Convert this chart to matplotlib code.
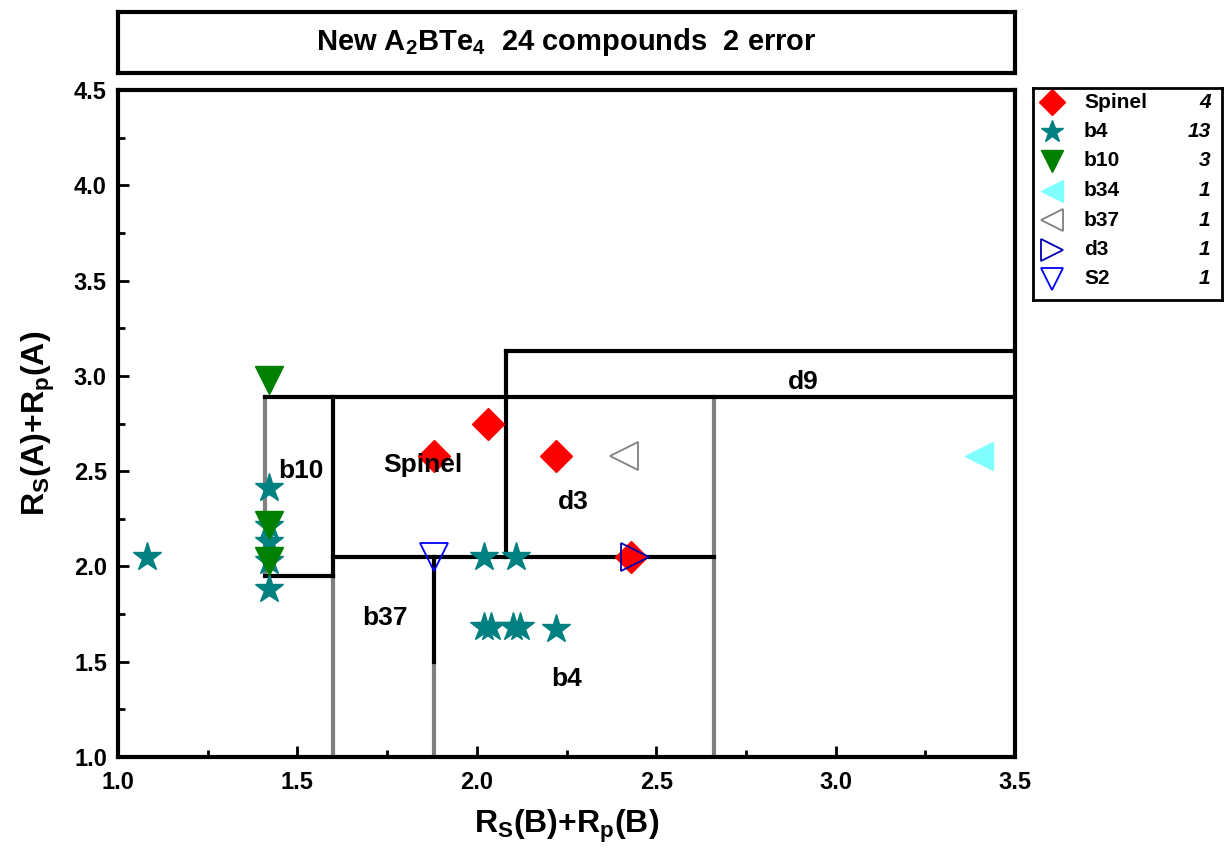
import numpy as np
import matplotlib
matplotlib.use('Agg')
import matplotlib.pyplot as plt

plt.rcParams['font.family'] = ['Liberation Sans', 'DejaVu Sans']
plt.rcParams['font.weight'] = 'bold'
plt.rcParams['mathtext.fontset'] = 'custom'
plt.rcParams['mathtext.rm'] = 'Liberation Sans:bold'
plt.rcParams['mathtext.bf'] = 'Liberation Sans:bold'
plt.rcParams['mathtext.default'] = 'bf'

# data
spinel_x = [1.88, 2.03, 2.22, 2.43]
spinel_y = [2.58, 2.75, 2.58, 2.05]
b4_x = [1.08, 1.42, 1.42, 1.42, 1.42, 1.42, 2.02, 2.11, 2.02, 2.04, 2.10, 2.12, 2.22]
b4_y = [2.05, 2.41, 2.21, 2.13, 2.03, 1.88, 2.05, 2.05, 1.68, 1.68, 1.68, 1.68, 1.67]
b10_x = [1.42, 1.42, 1.42]
b10_y = [2.98, 2.22, 2.03]
b34_x = [3.40]
b34_y = [2.58]
b37_x = [2.41]
b37_y = [2.58]
d3_x = [2.44]
d3_y = [2.05]
s2_x = [1.88]
s2_y = [2.05]

names = ['Spinel', 'b4', 'b10', 'b34', 'b37', 'd3', 'S2']
counts = ['4', '13', '3', '1', '1', '1', '1']

# region boundaries (x list, y list)
black_lines = [
    ([1.41, 3.5], [2.89, 2.89]),
    ([2.08, 3.5], [3.13, 3.13]),
    ([2.08, 2.08], [2.05, 3.13]),
    ([1.60, 1.60], [1.95, 2.89]),
    ([1.41, 1.60], [1.95, 1.95]),
    ([1.60, 2.66], [2.05, 2.05]),
    ([1.88, 1.88], [1.50, 2.05]),
]
gray_lines = [
    ([1.41, 1.41], [1.95, 2.89]),
    ([1.60, 1.60], [1.0, 1.95]),
    ([1.88, 1.88], [1.0, 1.50]),
    ([2.66, 2.66], [1.0, 2.89]),
]
region_labels = ['b10', 'Spinel', 'd3', 'b37', 'b4', 'd9']
region_x = [1.51, 1.85, 2.27, 1.745, 2.25, 2.91]
region_y = [2.50, 2.53, 2.34, 1.73, 1.41, 2.97]

fig = plt.figure(figsize=(12.24, 8.51), dpi=100)
ax = fig.add_axes([118/1224, 1-757/851, 897/1224, 667/851])

for xs, ys in gray_lines:
    ax.plot(xs, ys, color='#808080', lw=3, zorder=1)
for xs, ys in black_lines:
    ax.plot(xs, ys, color='k', lw=3, zorder=2)

styles = [
    dict(marker='D', ms=16, color='red', mfc='red', mec='red'),
    dict(marker='*', ms=21, color='#008080', mfc='#008080', mec='#008080'),
    dict(marker='v', ms=20, color='green', mfc='green', mec='green'),
    dict(marker='<', ms=20, color='#80ffff', mfc='#80ffff', mec='#80ffff'),
    dict(marker='<', ms=20, color='#808080', mfc='none', mec='#808080', mew=1.3),
    dict(marker='>', ms=20, color='#0000b0', mfc='none', mec='#0000b0', mew=1.3),
    dict(marker='v', ms=20, color='blue', mfc='none', mec='blue', mew=1.3),
]
series = [(spinel_x, spinel_y), (b4_x, b4_y), (b10_x, b10_y), (b34_x, b34_y),
          (b37_x, b37_y), (d3_x, d3_y), (s2_x, s2_y)]
for (xs, ys), st in zip(series, styles):
    ax.plot(xs, ys, ls='none', zorder=3, clip_on=False, **st)

for t, x, y in zip(region_labels, region_x, region_y):
    ax.text(x, y, t, fontsize=19, fontweight='bold', ha='center', va='center', zorder=4)

ax.set_xlim(1.0, 3.5)
ax.set_ylim(1.0, 4.5)
ax.set_xticks(np.arange(1.0, 3.51, 0.5))
ax.set_yticks(np.arange(1.0, 4.51, 0.5))
ax.set_xticks(np.arange(1.0, 3.51, 0.25), minor=True)
ax.set_yticks(np.arange(1.0, 4.51, 0.25), minor=True)
ax.xaxis.set_major_formatter(plt.FormatStrFormatter('%.1f'))
ax.yaxis.set_major_formatter(plt.FormatStrFormatter('%.1f'))
ax.tick_params(direction='in', width=2, labelsize=17, length=8)
ax.tick_params(axis='x', pad=10)
ax.tick_params(axis='y', pad=8)
ax.tick_params(which='minor', direction='in', width=2, length=5)
for lab in ax.get_xticklabels() + ax.get_yticklabels():
    lab.set_fontweight('bold')
for s in ax.spines.values():
    s.set_linewidth(3)
ax.set_xlabel(r'R$_\mathbf{S}$(B)+R$_\mathbf{p}$(B)', fontsize=23, fontweight='bold', labelpad=10)
ax.set_ylabel(r'R$_\mathbf{S}$(A)+R$_\mathbf{p}$(A)', fontsize=23, fontweight='bold', labelpad=12)

# title box
tax = fig.add_axes([118/1224, 1-73/851, 897/1224, 61/851])
tax.set_xticks([])
tax.set_yticks([])
for s in tax.spines.values():
    s.set_linewidth(3)
tax.text(0.5, 0.5, r'New A$_\mathbf{2}$BTe$_\mathbf{4}$  24 compounds  2 error',
         fontsize=21, fontweight='bold', ha='center', va='center')

# legend box
lax = fig.add_axes([1033/1224, 1-300/851, 189/1224, 212/851])
lax.set_xlim(0, 1)
lax.set_ylim(0, 212)
lax.invert_yaxis()
lax.set_xticks([])
lax.set_yticks([])
for s in lax.spines.values():
    s.set_linewidth(2)
row_y = 14 + 29.5 * np.arange(len(names))
for i, st in enumerate(styles):
    st2 = dict(st)
    st2['ms'] = st['ms'] * 0.8
    lax.plot([0.1], [row_y[i]], ls='none', **st2)
    lax.text(0.27, row_y[i], names[i], fontsize=15, fontweight='bold', va='center')
    lax.text(0.94, row_y[i], counts[i], fontsize=15, fontweight='bold',
             style='italic', va='center', ha='right')

fig.savefig('out.png', dpi=100)
